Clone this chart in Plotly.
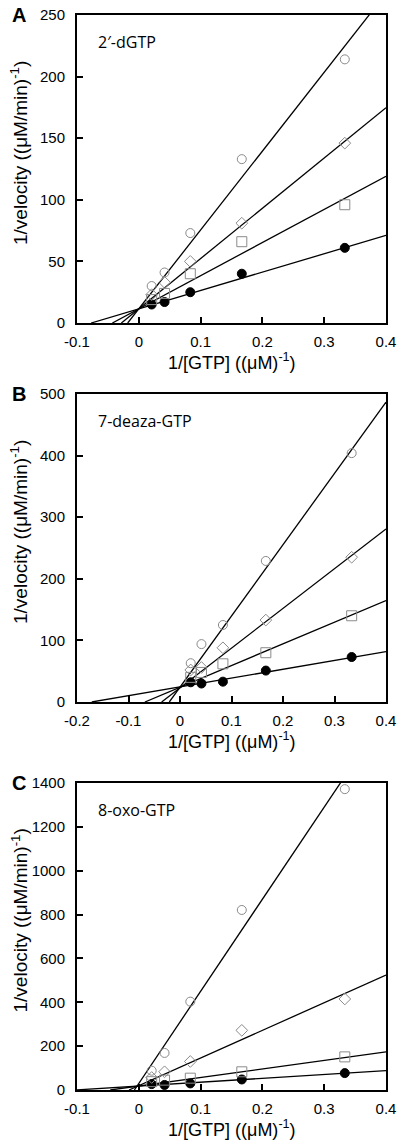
import plotly.graph_objects as go

# ---- data ----
x_gtp = [1/48, 1/24, 1/12, 1/6, 1/3]

panel_letters = ["A", "B", "C"]
panel_labels = ["2\u2032-dGTP", "7-deaza-GTP", "8-oxo-GTP"]

series_names = ["filled", "square", "diamond", "circle"]

# Panel A values
a_filled = [15, 17, 25, 40, 61]
a_square = [19, 24, 40, 66, 96]
a_diamond = [23, 33, 50, 81, 146]
a_circle = [30, 41, 73, 133, 214]
a_slopes = [149, 269, 408, 640]
a_intercepts = [11.5, 11.5, 11.5, 11.5]

# Panel B values
b_filled = [32, 30, 33, 51, 73]
b_square = [40, 48, 62, 80, 140]
b_diamond = [52, 56, 88, 133, 235]
b_circle = [63, 94, 125, 229, 404]
b_slopes = [143, 352, 645, 1157]
b_intercepts = [24.5, 24, 23, 24]

# Panel C values
c_filled = [27, 23, 30, 48, 77]
c_square = [38, 45, 54, 83, 151]
c_diamond = [57, 83, 130, 272, 415]
c_circle = [88, 169, 403, 821, 1372]
c_slopes = [175, 390, 1260, 4200]
c_intercepts = [18, 18, 20, 30]

# axis settings
x_ranges = [[-0.1, 0.4], [-0.2, 0.4], [-0.1, 0.4]]
x_tickvals = [[-0.1, 0, 0.1, 0.2, 0.3, 0.4],
              [-0.2, -0.1, 0, 0.1, 0.2, 0.3, 0.4],
              [-0.1, 0, 0.1, 0.2, 0.3, 0.4]]
x_ticktext = [["-0.1", "0", "0.1", "0.2", "0.3", "0.4"],
              ["-0.2", "-0.1", "0", "0.1", "0.2", "0.3", "0.4"],
              ["-0.1", "0", "0.1", "0.2", "0.3", "0.4"]]
y_ranges = [[0, 250], [0, 500], [0, 1400]]
y_dticks = [50, 100, 200]

panels = [
    ([a_filled, a_square, a_diamond, a_circle], a_slopes, a_intercepts),
    ([b_filled, b_square, b_diamond, b_circle], b_slopes, b_intercepts),
    ([c_filled, c_square, c_diamond, c_circle], c_slopes, c_intercepts),
]

# ---- layout geometry (pixels) ----
W, H = 400, 1147
left_px, right_px = 77, 386
panel_px = [(15, 323), (394, 702), (783, 1090)]  # top, bottom

def py(p):
    return 1 - p / H

FONT = "Liberation Sans, Arial, sans-serif"
GRAY = "#8a8a8a"
marker_styles = [
    dict(symbol="circle", size=9, color="black", line=dict(color="black", width=1)),
    dict(symbol="square-open", size=10, color=GRAY, line=dict(color=GRAY, width=1)),
    dict(symbol="diamond-open", size=9, color=GRAY, line=dict(color=GRAY, width=1)),
    dict(symbol="circle-open", size=9, color=GRAY, line=dict(color=GRAY, width=1)),
]

fig = go.Figure()
annotations = []
layout_axes = {}

for i, (vals, slopes, intercepts) in enumerate(panels):
    n = i + 1
    xa = "x" if n == 1 else f"x{n}"
    ya = "y" if n == 1 else f"y{n}"
    xmax = x_ranges[i][1]
    # fitted lines
    for m, b in zip(slopes, intercepts):
        x0 = -b / m
        fig.add_trace(go.Scatter(
            x=[x0, xmax], y=[m * x0 + b, m * xmax + b], mode="lines",
            line=dict(color="black", width=1.3), xaxis=xa, yaxis=ya,
            showlegend=False, hoverinfo="skip"))
    # data points
    for k, v in enumerate(vals):
        fig.add_trace(go.Scatter(
            x=x_gtp, y=v, mode="markers", marker=marker_styles[k],
            name=series_names[k], xaxis=xa, yaxis=ya, showlegend=False,
            cliponaxis=False))

    top, bot = panel_px[i]
    xkey = "xaxis" if n == 1 else f"xaxis{n}"
    ykey = "yaxis" if n == 1 else f"yaxis{n}"
    common = dict(showline=True, linewidth=2, linecolor="black", mirror=True,
                  ticks="inside", ticklen=6, tickwidth=1.5, tickcolor="black",
                  showgrid=False, zeroline=False, automargin=False,
                  tickfont=dict(family=FONT, size=15, color="black"))
    layout_axes[xkey] = dict(common, domain=[left_px / W, right_px / W],
                             range=x_ranges[i], tickmode="array",
                             tickvals=x_tickvals[i], ticktext=x_ticktext[i],
                             anchor=ya, ticklabelstandoff=4)
    layout_axes[ykey] = dict(common, domain=[py(bot), py(top)],
                             range=y_ranges[i], dtick=y_dticks[i], tick0=0,
                             anchor=xa, ticklabelstandoff=7)

    mid_y = (top + bot) / 2
    # y title
    annotations.append(dict(
        x=19 / W, y=py(mid_y - 16), xref="paper", yref="paper", textangle=-90,
        text="1/velocity ((\u03bcM/min)<sup>-1</sup>)", showarrow=False,
        font=dict(family=FONT, size=19, color="black"),
        xanchor="center", yanchor="middle"))
    # x title
    annotations.append(dict(
        x=(left_px + right_px) / 2 / W, y=py(bot + 38), xref="paper", yref="paper",
        text="1/[GTP] ((\u03bcM)<sup>-1</sup>)", showarrow=False,
        font=dict(family=FONT, size=18, color="black"),
        xanchor="center", yanchor="middle"))
    # panel letter
    annotations.append(dict(
        x=19 / W, y=py(top), xref="paper", yref="paper",
        text=f"<b>{panel_letters[i]}</b>", showarrow=False,
        font=dict(family=FONT, size=20, color="black"),
        xanchor="center", yanchor="middle"))
    # inset label
    annotations.append(dict(
        x=96 / W, y=py(top + 27), xref="paper", yref="paper",
        text=panel_labels[i], showarrow=False,
        font=dict(family="Open Sans, sans-serif", size=16, color="black"),
        xanchor="left", yanchor="middle"))

fig.update_layout(
    template="none",
    width=W, height=H, margin=dict(l=0, r=0, t=0, b=0, autoexpand=False),
    plot_bgcolor="white", paper_bgcolor="white", showlegend=False,
    annotations=annotations, **layout_axes)

fig.write_html(
    "out.html",
    config={"displayModeBar": False},
    post_script="document.body.style.margin='0';document.body.style.overflow='hidden';")
